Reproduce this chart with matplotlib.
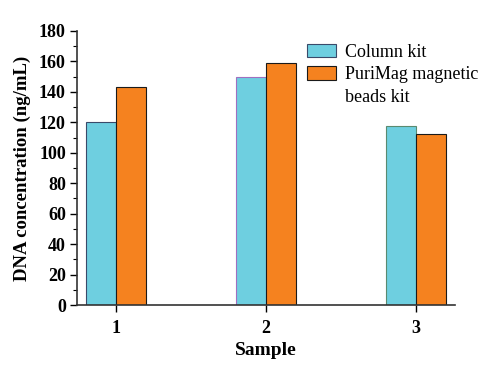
import matplotlib
matplotlib.use('Agg')
import matplotlib.pyplot as plt
import numpy as np
from matplotlib.ticker import MultipleLocator
from matplotlib.patches import Rectangle

samples = [1, 2, 3]
column_kit = [120, 150, 117.5]
purimag_kit = [143, 159, 112.5]
column_edges = ['#3a4a6a', '#a070c0', '#5a8a70']

plt.rcParams['font.family'] = ['Liberation Serif', 'DejaVu Serif']

fig = plt.figure(figsize=(5, 3.68), dpi=100)
ax = fig.add_axes([0.154, 0.171, 0.756, 0.745])

x = np.array(samples)
w = 0.2
b1 = ax.bar(x - w / 2, column_kit, w, color='#6ecfe0', edgecolor=column_edges,
            linewidth=0.8)
b2 = ax.bar(x + w / 2, purimag_kit, w, color='#f5821f', edgecolor='#1a1a1a',
            linewidth=0.8)

ax.set_xlim(0.74, 3.26)
ax.set_ylim(0, 180)
ax.set_xticks(samples)
ax.yaxis.set_major_locator(MultipleLocator(20))
ax.yaxis.set_minor_locator(MultipleLocator(10))
ax.spines['top'].set_visible(False)
ax.spines['right'].set_visible(False)
for s in ['left', 'bottom']:
    ax.spines[s].set_color('#333333')
    ax.spines[s].set_linewidth(1.2)
ax.tick_params(which='major', direction='out', length=5, width=1.0, labelsize=13)
ax.tick_params(axis='y', which='major', pad=3)
ax.tick_params(axis='x', which='major', pad=6)
ax.tick_params(which='minor', direction='out', length=3, width=0.8)
for lab in ax.get_xticklabels() + ax.get_yticklabels():
    lab.set_fontweight('bold')

ax.set_xlabel('Sample', fontsize=14, fontweight='bold', labelpad=3)
ax.set_ylabel('DNA concentration (ng/mL)', fontsize=13.5, fontweight='bold', labelpad=6)

# second label wraps, but its patch sits beside the first line only
h1 = Rectangle((0, 0), 1, 1, facecolor='#6ecfe0', edgecolor='#3a4a6a', linewidth=0.8)
h2 = Rectangle((0, 0), 1, 1, facecolor='#f5821f', edgecolor='#1a1a1a', linewidth=0.8)
blank = Rectangle((0, 0), 1, 1, alpha=0)
leg = ax.legend([h1, h2, blank], ['Column kit', 'PuriMag magnetic', 'beads kit'],
                loc='upper left', bbox_to_anchor=(0.576, 1.0), frameon=False,
                fontsize=13, handlelength=1.6, handleheight=0.8,
                handletextpad=0.5, labelspacing=0.3, borderpad=0.2)

fig.savefig('out.png', dpi=100)
